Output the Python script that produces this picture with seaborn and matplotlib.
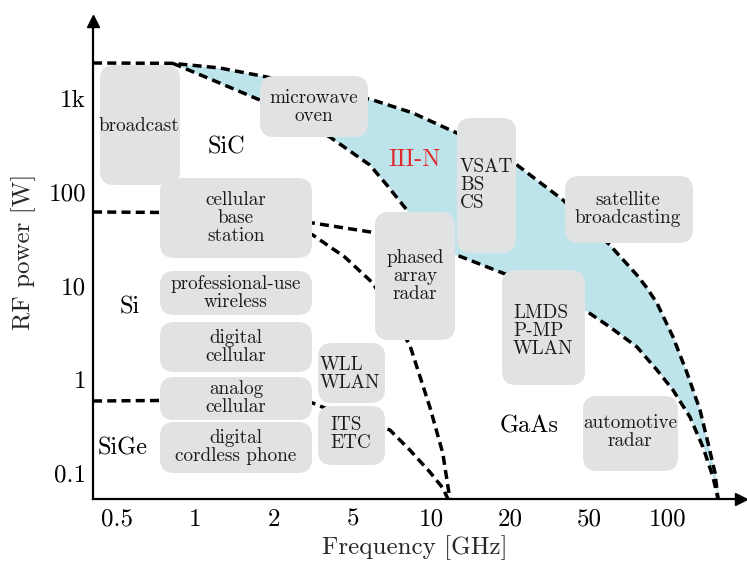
import numpy as np
import matplotlib
matplotlib.use("Agg")
import matplotlib.pyplot as plt
import seaborn as sns
from matplotlib.patches import FancyBboxPatch
from matplotlib.transforms import IdentityTransform

# ---------------- data ----------------
tick_freqs = [0.5, 1, 2, 5, 10, 20, 50, 100]
tick_freq_labels = ["0.5", "1", "2", "5", "10", "20", "50", "100"]
power_ticks = [0.1, 1, 10, 100, 1000]
power_tick_labels = ["0.1", "1", "10", "100", "1k"]

# III-N outer (upper) limit
iiin_outer_f = [0.406, 0.819, 1.239, 1.874, 5.96, 8.47, 12.48, 21.6, 36.9, 60.0, 76.2, 83.2,
                90.8, 104.6, 118.4, 132.7, 142.4, 151.5, 155.5]
iiin_outer_p = [2360, 2340, 2089, 1675, 952, 692, 423, 193, 81.6, 27.0, 12.9, 9.40,
                6.50, 2.83, 1.167, 0.470, 0.209, 0.100, 0.053]
# SiC lower limit (inner III-N boundary)
sic_lower_f = [0.819, 1.114, 1.762, 3.82, 5.80, 6.74, 8.04, 9.42, 11.24]
sic_lower_p = [2340, 1634, 952, 384, 193, 118, 63.8, 34.6, 17.8]
# GaAs upper limit
gaas_upper_f = [0.406, 1.477, 2.135, 3.131, 6.17, 12.48, 20.6, 47.5, 60.0, 76.2, 90.8,
                104.6, 121.5, 136.2, 148.8, 155.5]
gaas_upper_p = [60.8, 59.3, 53.8, 46.4, 36.3, 21.1, 12.3, 5.48, 3.61, 2.21, 1.256,
                0.767, 0.395, 0.189, 0.0906, 0.053]
# Si upper limit (branch towards high frequency)
si_upper_f = [1.477, 2.135, 3.131, 4.55, 5.96, 8.25, 9.84, 11.03, 11.74]
si_upper_p = [59.3, 47.5, 34.6, 20.1, 10.6, 2.32, 0.506, 0.163, 0.053]
# SiGe upper limit
sige_upper_f = [0.406, 1.353, 1.924, 3.131, 3.60, 6.92, 8.25, 9.84, 11.03, 11.54]
sige_upper_p = [0.586, 0.601, 0.586, 0.558, 0.494, 0.288, 0.176, 0.1026, 0.0692, 0.053]

region_labels = ["SiC", "Si", "SiGe", "GaAs"]
iiin_label = "III-N"
app_labels = ["broadcast", "microwave\noven", "cellular\nbase\nstation",
              "professional-use\nwireless", "digital\ncellular", "analog\ncellular",
              "digital\ncordless phone", "WLL\nWLAN", "ITS\nETC", "phased\narray\nradar",
              "VSAT\nBS\nCS", "satellite\nbroadcasting", "LMDS\nP-MP\nWLAN", "automotive\nradar"]

# ---------------- layout (reference pixel coordinates) ----------------
W, H = 747, 570
box_extents = [(100, 180, 65, 185), (260, 368, 76, 137), (160, 312, 178, 258),
               (160, 312, 271, 315), (160, 312, 322, 372), (160, 312, 377, 420),
               (160, 312, 422, 473), (318, 385, 343, 403), (318, 385, 406, 465),
               (375, 455, 212, 340), (457, 516, 118, 253), (565, 693, 176, 243),
               (502, 585, 270, 385), (583, 678, 396, 471)]
box_text_pos = [(139, 126), (314, 107), (236, 218), (236, 293), (236, 347), (236, 398),
                (236, 447), (320, 374), (330, 434), (415, 276), (460, 185), (628, 209),
                (513, 331), (630, 432)]
box_text_ha = ["center", "center", "center", "center", "center", "center", "center",
               "left", "left", "center", "left", "center", "left", "center"]
region_pos = [(226, 147), (130, 307), (123, 448), (529, 426)]
iiin_pos = (415, 160)

BLUE = "#bde4ea"
GREY = "#e1e2e4"
RED = "#e0282e"

sns.set_theme(style="white")
plt.rcParams["font.family"] = ["cmr10", "DejaVu Serif"]
plt.rcParams["axes.formatter.use_mathtext"] = True
plt.rcParams["mathtext.fontset"] = "cm"

L = np.log10(tick_freqs)
P = np.arange(len(tick_freqs), dtype=float)


def fwd(f):
    f = np.asarray(f, dtype=float)
    lf = np.log10(np.where(f > 0, f, 1e-300))
    out = np.interp(lf, L, P)
    lo = lf < L[0]
    hi = lf > L[-1]
    out = np.where(lo, (lf - L[0]) / (L[1] - L[0]), out)
    out = np.where(hi, P[-1] + (lf - L[-1]) / (L[-1] - L[-2]), out)
    return out


def inv(p):
    p = np.asarray(p, dtype=float)
    lf = np.interp(p, P, L)
    lf = np.where(p < 0, L[0] + p * (L[1] - L[0]), lf)
    lf = np.where(p > P[-1], L[-1] + (p - P[-1]) * (L[-1] - L[-2]), lf)
    return 10 ** lf


fig = plt.figure(figsize=(W / 100, H / 100), dpi=100)
ax = fig.add_axes([93 / W, (H - 499) / H, (741 - 93) / W, (499 - 21) / H])
ax.set_xscale("function", functions=(fwd, inv))
ax.set_yscale("log")

# III-N shaded region
g = np.linspace(fwd(iiin_outer_f[1]), fwd(iiin_outer_f[-1]), 800)
yA = np.interp(g, fwd(iiin_outer_f), np.log10(iiin_outer_p))
yB = np.interp(g, fwd(sic_lower_f), np.log10(sic_lower_p), right=-np.inf)
yG = np.interp(g, fwd(gaas_upper_f), np.log10(gaas_upper_p))
low = np.maximum(yB, yG)
ax.fill_between(inv(g), 10 ** low, 10 ** yA, color=BLUE, lw=0, zorder=1)

dash = (0, (2.6, 1.5))
for fx, py in [(iiin_outer_f, iiin_outer_p), (sic_lower_f, sic_lower_p),
               (gaas_upper_f, gaas_upper_p), (si_upper_f, si_upper_p),
               (sige_upper_f, sige_upper_p)]:
    sns.lineplot(x=fx, y=py, ax=ax, sort=False, estimator=None, errorbar=None,
                 color="black", lw=2.5, linestyle=dash, zorder=2)

ax.set_xlim(0.4059, 190.4)
ax.set_ylim(0.0528, 6620)
ax.set_xticks(tick_freqs)
ax.set_xticklabels(tick_freq_labels)
ax.xaxis.set_minor_locator(matplotlib.ticker.NullLocator())
ax.set_yticks(power_ticks)
ax.set_yticklabels(power_tick_labels)
ax.yaxis.set_minor_locator(matplotlib.ticker.NullLocator())
ax.set_xlabel("")
ax.set_ylabel("")

for s in ["top", "right"]:
    ax.spines[s].set_visible(False)
for s in ["left", "bottom"]:
    ax.spines[s].set_linewidth(1.6)
    ax.spines[s].set_color("black")
ax.tick_params(axis="both", which="major", direction="in", length=8.6, width=1.6,
               colors="black", labelsize=18)
ax.tick_params(axis="x", pad=7)
ax.tick_params(axis="y", pad=5)
ax.set_facecolor("white")
ax.grid(False)

# axis arrows
ax.plot(1, 0, ">", color="black", ms=8.6, transform=ax.transAxes, clip_on=False, zorder=5)
ax.plot(0, 1, "^", color="black", ms=8.6, transform=ax.transAxes, clip_on=False, zorder=5)

T = IdentityTransform()

for lab, (x0, x1, y0, y1), (tx, ty), ha in zip(app_labels, box_extents, box_text_pos, box_text_ha):
    r = 14 if min(x1 - x0, y1 - y0) > 40 else 12
    patch = FancyBboxPatch((x0, H - y1), x1 - x0, y1 - y0,
                           boxstyle=f"round,pad=0,rounding_size={r}",
                           fc=GREY, ec="none", transform=T, zorder=3, clip_on=False)
    ax.add_artist(patch)
    ax.text(tx, H - ty, lab, transform=T, ha=ha, va="center", ma=ha,
            fontsize=13.8, color="#1a1a1a", linespacing=1.0, zorder=4)

for lab, (tx, ty) in zip(region_labels, region_pos):
    ax.text(tx, H - ty, lab, transform=T, ha="center", va="center",
            fontsize=17.5, color="black", zorder=4)
ax.text(iiin_pos[0], H - iiin_pos[1], iiin_label, transform=T, ha="center",
        va="center", fontsize=17.5, color=RED, zorder=4)

fig.text(415 / W, (H - 548) / H, "Frequency [GHz]", ha="center", va="center", fontsize=18)
fig.text(24 / W, (H - 252) / H, "RF power [W]", ha="center", va="center",
         rotation=90, fontsize=18)

fig.savefig("out.png", dpi=100, facecolor="white")
